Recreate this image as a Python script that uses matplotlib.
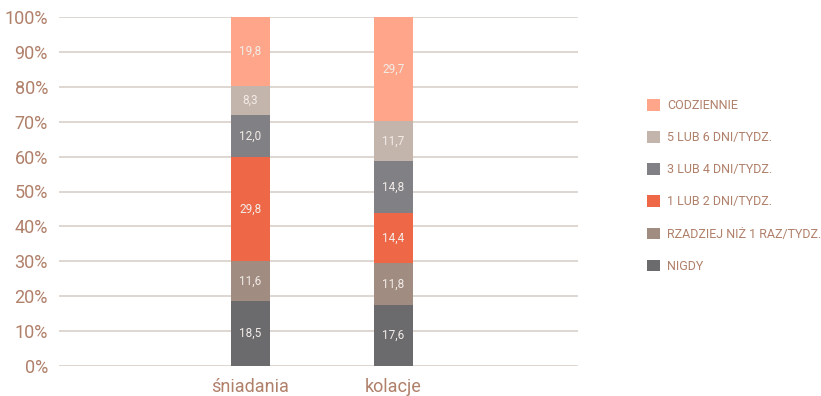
import matplotlib
matplotlib.use('Agg')
import matplotlib.pyplot as plt
from matplotlib.patches import Patch
import numpy as np

plt.rcParams['font.family'] = ['Roboto', 'DejaVu Sans']

categories = ['śniadania', 'kolacje']
series = ['NIGDY', 'RZADZIEJ NIŻ 1 RAZ/TYDZ.', '1 LUB 2 DNI/TYDZ.',
          '3 LUB 4 DNI/TYDZ.', '5 LUB 6 DNI/TYDZ.', 'CODZIENNIE']
values = {
    'NIGDY': [18.5, 17.6],
    'RZADZIEJ NIŻ 1 RAZ/TYDZ.': [11.6, 11.8],
    '1 LUB 2 DNI/TYDZ.': [29.8, 14.4],
    '3 LUB 4 DNI/TYDZ.': [12.0, 14.8],
    '5 LUB 6 DNI/TYDZ.': [8.3, 11.7],
    'CODZIENNIE': [19.8, 29.7],
}
colors = ['#6b6b6e', '#a08c80', '#ee6847', '#818084', '#c4b5ac', '#ffa68a']
yticks = [0, 10, 20, 30, 40, 50, 60, 70, 80, 90, 100]

txt_col = '#b0806a'
grid_col = '#d9d0ca'

fig = plt.figure(figsize=(8.21, 3.96), dpi=100)
ax = fig.add_axes([59 / 821, 30 / 396, (578 - 59) / 821, (366 - 17) / 396])

x = np.arange(len(categories))
bottom = np.zeros(len(categories))
for s, c in zip(series, colors):
    v = np.array(values[s])
    ax.bar(x, v, bottom=bottom, width=0.273, color=c, zorder=3)
    for xi, vi, bi in zip(x, v, bottom):
        ax.text(xi, bi + vi / 2, f'{vi:.1f}'.replace('.', ','), ha='center', va='center',
                fontsize=8.5, color='#f3ece8', zorder=4)
    bottom += v

ax.set_xlim(-1.339, 2.29)
ax.set_ylim(0, 100)
ax.set_yticks(yticks)
ax.set_yticklabels([f'{t}%' for t in yticks], fontsize=13, color=txt_col)
ax.set_xticks(x)
ax.set_xticklabels(categories, fontsize=13, color=txt_col)
ax.tick_params(axis='both', length=0)
ax.tick_params(axis='y', pad=8)
ax.tick_params(axis='x', pad=9)
for sp in ax.spines.values():
    sp.set_visible(False)
ax.grid(axis='y', color=grid_col, linewidth=1.2, zorder=0)
ax.set_axisbelow(True)

handles = [Patch(facecolor=c) for c in colors[::-1]]
leg = fig.legend(handles, series[::-1], loc='upper left', bbox_to_anchor=(636 / 821, 1 - 88 / 396),
                 frameon=False, fontsize=9, labelspacing=1.52, handlelength=1.05,
                 handleheight=1.05, handletextpad=0.55, labelcolor=txt_col)

plt.savefig('out.png', dpi=100)
